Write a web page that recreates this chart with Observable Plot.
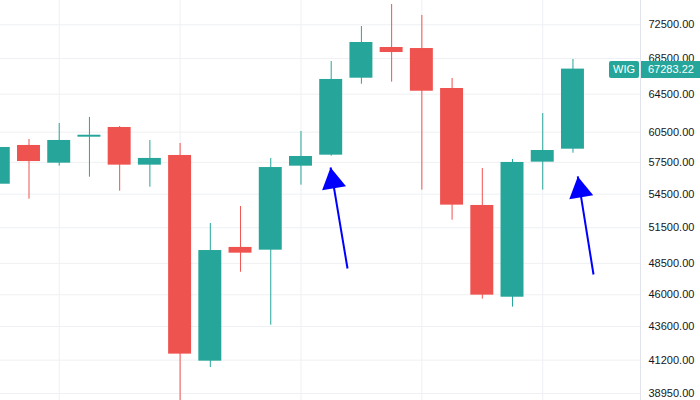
<!DOCTYPE html>
<html>
<head>
<meta charset="utf-8">
<script src="https://cdn.jsdelivr.net/npm/d3@7"></script>
<script src="https://cdn.jsdelivr.net/npm/@observablehq/plot@0.6"></script>
<style>
  html, body { margin: 0; padding: 0; background: #ffffff; }
  #chart svg { display: block; }
</style>
</head>
<body>
<div id="chart"></div>
<script>
// ---- data ----
const candleIndex = [0, 1, 2, 3, 4, 5, 6, 7, 8, 9, 10, 11, 12, 13, 14, 15, 16, 17, 18, 19];
const opens  = [55420, 59160, 57420, 59990, 60980, 57230, 58170, 41130, 49820, 49590, 57130, 58200, 66260, 69780, 69660, 65120, 53470, 45810, 57520, 58790];
const highs  = [59300, 59760, 61390, 62020, 61080, 59660, 59360, 51870, 53380, 57880, 60570, 68150, 72290, 75020, 73650, 66230, 56910, 57780, 62430, 68380];
const lows   = [55000, 54040, 57130, 56080, 54770, 55140, 37900, 40690, 47780, 43700, 55330, 58100, 65590, 65820, 54870, 52160, 45660, 45050, 54870, 58390];
const closes = [58960, 57580, 59660, 60190, 57230, 57880, 41620, 49560, 49340, 57000, 58070, 66120, 70370, 69190, 64820, 53500, 45970, 57490, 58660, 67283.22];

const priceTicks = [72500, 68500, 64500, 60500, 57500, 54500, 51500, 48500, 46000, 43600, 41200, 38950];
const timeGrid = [2, 6, 10, 14, 18];

const symbolName = "WIG";
const lastPrice = 67283.22;

// annotation arrows: tail -> tip, in (candle index, price)
const arrowTailX = [11.54, 19.68];
const arrowTailY = [48080, 47600];
const arrowTipX  = [10.98, 19.16];
const arrowTipY  = [57000, 56150];

// ---- build tables ----
const candles = candleIndex.map((i, k) => ({
  i, open: opens[k], high: highs[k], low: lows[k], close: closes[k],
  up: closes[k] >= opens[k]
}));
const arrows = arrowTailX.map((x, k) => ({
  x1: x, y1: arrowTailY[k], x2: arrowTipX[k], y2: arrowTipY[k]
}));

const UP = "#26a69a", DOWN = "#ef5350";
const FONT = "'Liberation Sans', Arial, sans-serif";

const plot = Plot.plot({
  width: 700,
  height: 400,
  marginLeft: 0,
  marginRight: 60,
  marginTop: 0,
  marginBottom: 0,
  style: { fontFamily: FONT, fontSize: "11px", color: "#131722", background: "#ffffff", overflow: "hidden" },
  x: { domain: [0.0569, 21.235], axis: null },
  y: { type: "log", domain: [38492, 75531], axis: null },
  marks: [
    Plot.gridY(priceTicks, { stroke: "#eef0f3", strokeOpacity: 1 }),
    Plot.gridX(timeGrid, { stroke: "#eef0f3", strokeOpacity: 1 }),
    Plot.ruleX(candles, {
      x: "i", y1: "low", y2: "high",
      stroke: d => d.up ? UP : DOWN, strokeWidth: 1, clip: true
    }),
    Plot.rect(candles, {
      x1: d => d.i - 0.38, x2: d => d.i + 0.38,
      y1: "open", y2: "close",
      fill: d => d.up ? UP : DOWN, clip: true
    }),
    Plot.axisY(priceTicks, {
      anchor: "right",
      tickSize: 0,
      tickPadding: 8,
      tickFormat: d => d.toFixed(2),
      fill: "#131722",
      fontSize: 11,
      label: null
    }),
    Plot.link(arrows, {
      x1: "x1", y1: "y1", x2: "x2", y2: "y2",
      stroke: "#0000ff", strokeWidth: 2
    }),
    Plot.dot(arrows, {
      x: "x2", y: "y2",
      symbol: "triangle", r: 9,
      fill: "#0000ff", stroke: "none",
      rotate: -9.5, dx: 2.3, dy: 13.8
    })
  ]
});

document.getElementById("chart").appendChild(plot);

// price axis border line and last-price badge, positioned with Plot's scales
const xs = plot.scale("x"), ys = plot.scale("y");
const frameRight = xs.range[1];
const svg = d3.select(plot);
svg.append("line")
  .attr("x1", frameRight + 0.5).attr("x2", frameRight + 0.5)
  .attr("y1", 0).attr("y2", 400)
  .attr("stroke", "#e0e3eb").attr("stroke-width", 1);

const by = ys.apply(lastPrice);
const badge = svg.append("g").attr("font-family", FONT).attr("font-size", 11);
badge.append("rect")
  .attr("x", frameRight - 31).attr("y", by - 7.6).attr("width", 30).attr("height", 17)
  .attr("rx", 2).attr("fill", UP);
badge.append("text")
  .attr("x", frameRight - 16).attr("y", by + 0.9).attr("dy", "0.35em")
  .attr("text-anchor", "middle").attr("fill", "#ffffff").text(symbolName);
badge.append("rect")
  .attr("x", frameRight + 1).attr("y", by - 7.6).attr("width", 60).attr("height", 17)
  .attr("fill", UP);
badge.append("text")
  .attr("x", frameRight + 8).attr("y", by + 0.9).attr("dy", "0.35em")
  .attr("text-anchor", "start").attr("fill", "#ffffff").text(lastPrice.toFixed(2));
</script>
</body>
</html>
